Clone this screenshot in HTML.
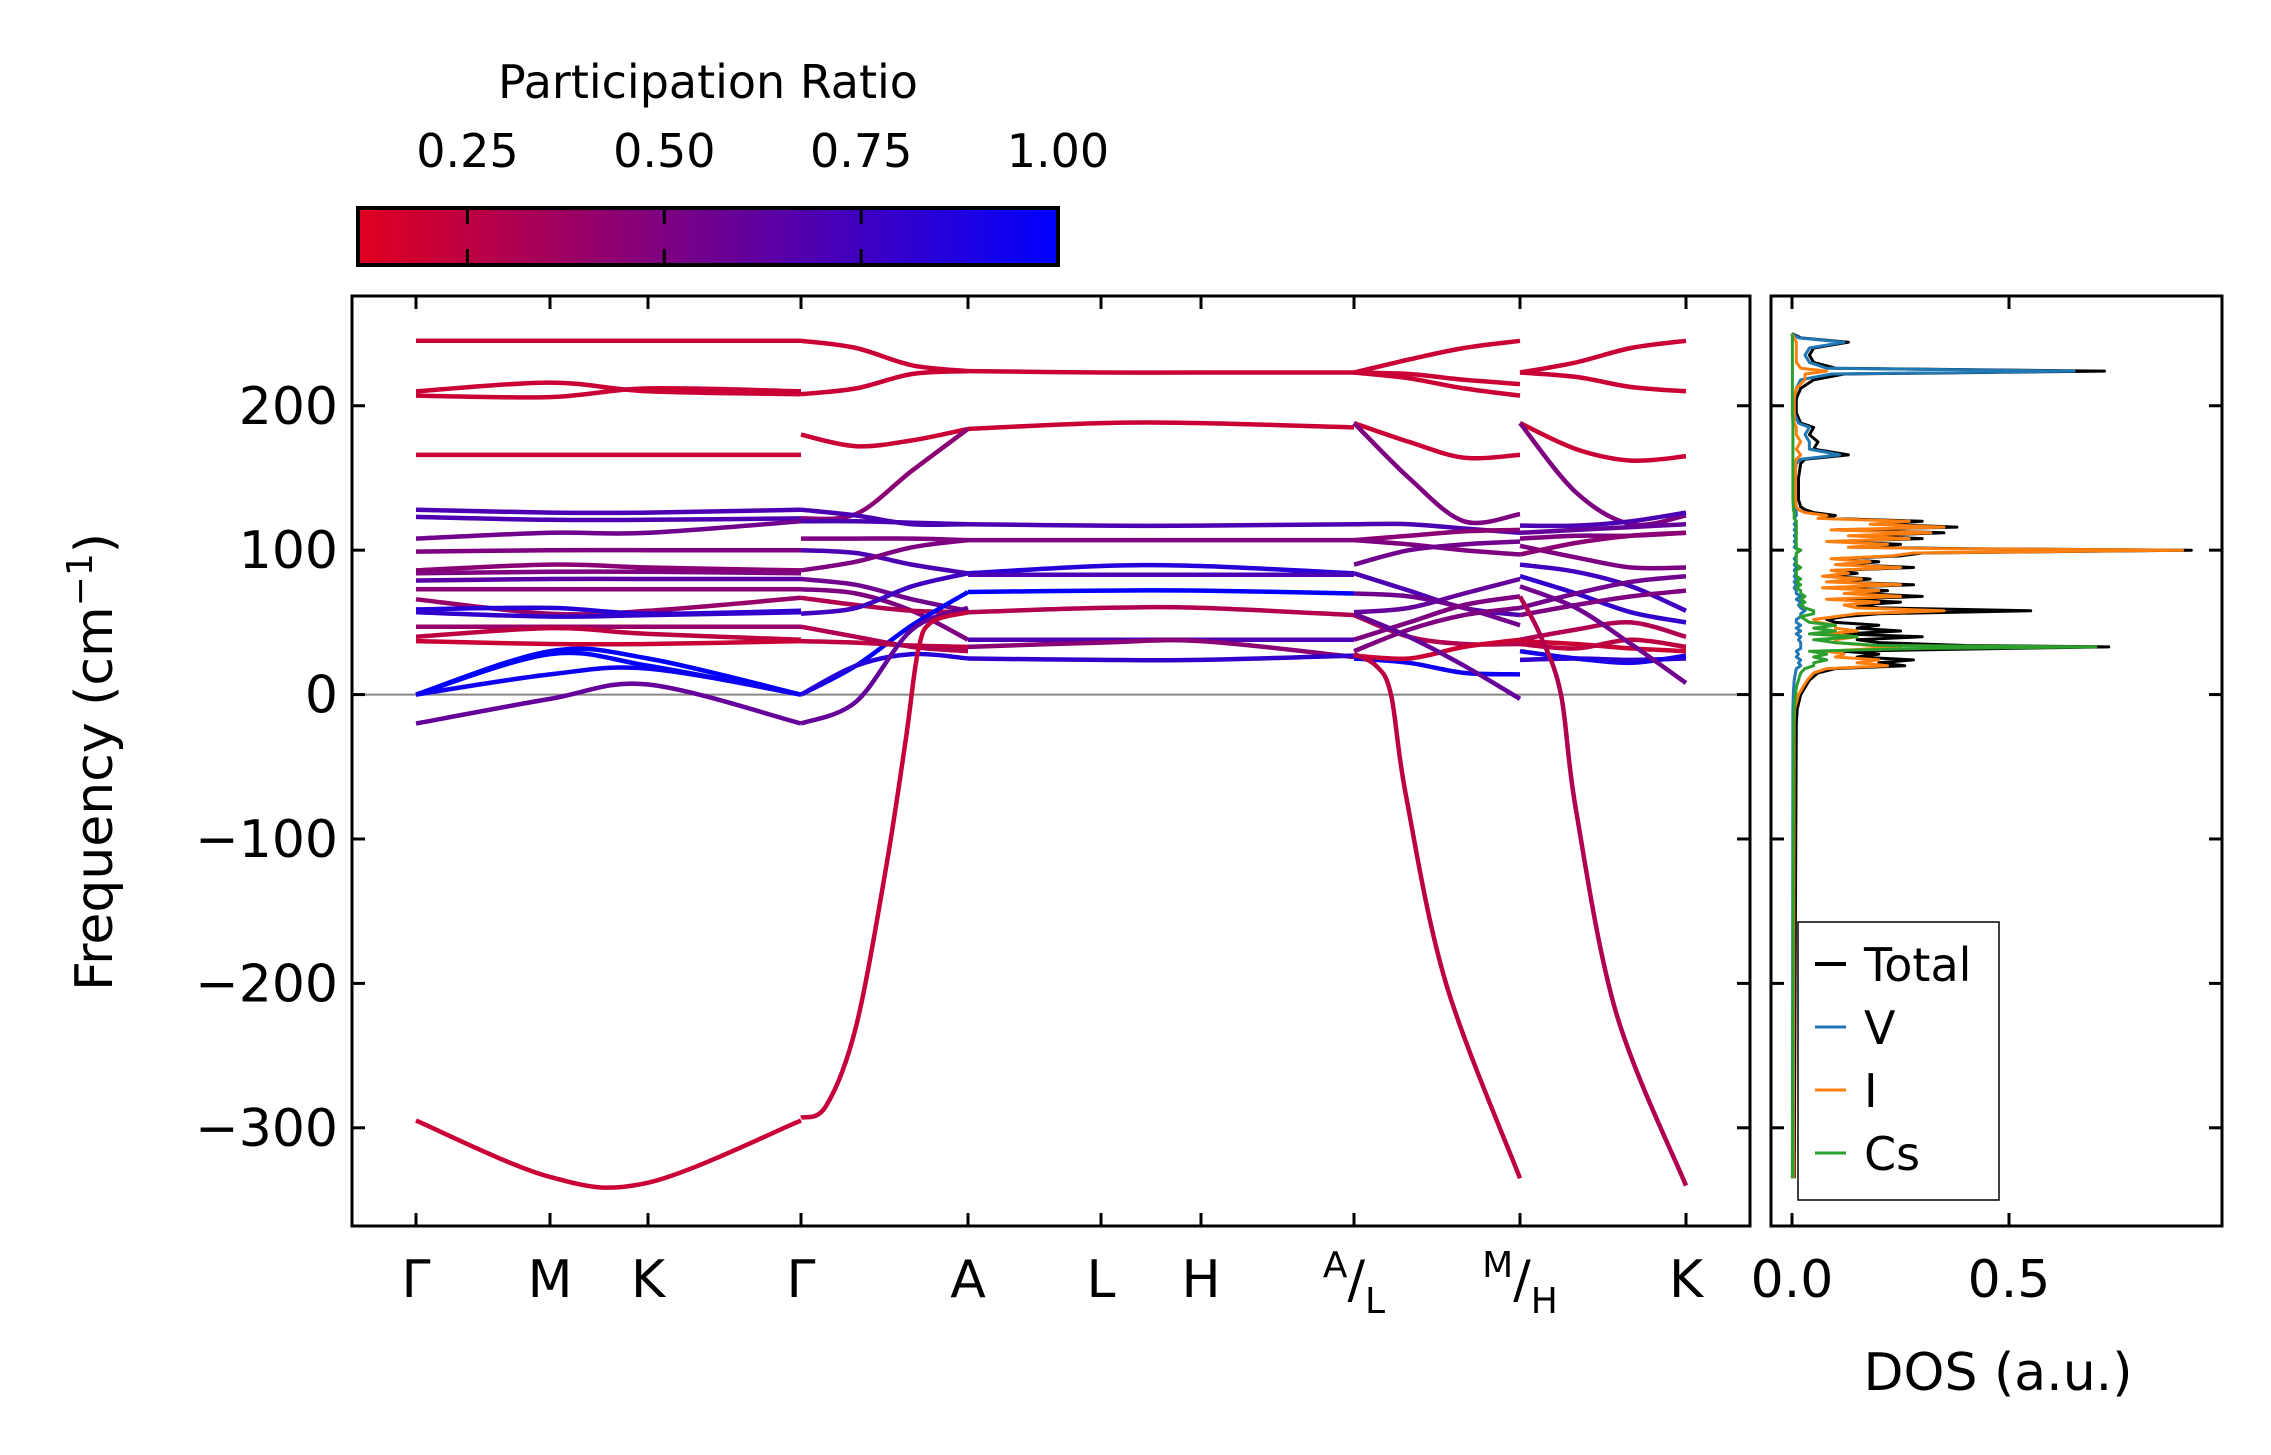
<!DOCTYPE html>
<html><head><meta charset="utf-8">
<style>
html,body{margin:0;padding:0;background:#fff;}
svg{display:block;font-family:"DejaVu Sans","Liberation Sans",sans-serif;}
</style></head>
<body>
<svg id="fig" width="2271" height="1455" viewBox="0 0 2271 1455" xmlns="http://www.w3.org/2000/svg">
<defs>
<linearGradient id="cmap" x1="0" x2="1" y1="0" y2="0">
<stop offset="0" stop-color="rgb(224,0,31)"/><stop offset="1" stop-color="rgb(0,0,255)"/>
</linearGradient>
<clipPath id="mainClip"><rect x="352" y="296" width="1398" height="930"/></clipPath>
<clipPath id="dosClip"><rect x="1771" y="296" width="451" height="930"/></clipPath>
</defs>
<text x="708" y="98" font-size="46" text-anchor="middle">Participation Ratio</text>
<g id="cbar">
<rect x="358" y="208" width="700" height="57" fill="url(#cmap)" stroke="#000" stroke-width="4"/>
</g>
<g id="mainAxes"></g>
<g id="dosAxes"></g>
<text transform="translate(112,762) rotate(-90)" font-size="52" text-anchor="middle">Frequency (cm<tspan font-size="36" dy="-20">−1</tspan><tspan dy="20">)</tspan></text>
<text x="1998" y="1390" font-size="52" text-anchor="middle">DOS (a.u.)</text>
</svg>
<script>
// ---------- DATA ----------
const yMin = -368, yMax = 276;
const tickFreqs = [-300, -200, -100, 0, 100, 200];
const tickLabels = ["−300", "−200", "−100", "0", "100", "200"];
const kTickPos = [0, 134, 232, 385, 552, 685, 785, 938, 1104, 1270];
const kTickLabels = ["Γ", "M", "K", "Γ", "A", "L", "H", "A/L", "M/H", "K"];
const cbarTicks = [0.25, 0.50, 0.75, 1.00];
const cbarTickLabels = ["0.25", "0.50", "0.75", "1.00"];

const seg1K = [0, 134, 232, 385];
const seg1Bands = [[245,245,245,245],[210,216,210,208],[207,206,212,210],[166,166,166,166],[128,126,126,128],[123,121,121,122],[108,112,112,120],[99,100,100,100],[86,90,88,86],[84,85,85,84],[79,80,80,80],[73,73,73,73],[66,56,58,67],[59,60,56,58],[57,54,55,57],[47,47,47,47],[40,46,42,38],[37,35,35,37],[0,28,20,0],[0,30,25,0],[0,14,18,0],[-20,-3,7,-20],[-295,-334,-338,-295]];
const seg1PR = [.2,.2,.2,.2,.7,.7,.55,.5,.45,.5,.65,.45,.4,.85,.8,.4,.25,.2,1,1,.95,.6,.2];

const seg2K = [385, 440, 496, 552];
const seg2Bands = [[245,240,228,224],[208,212,222,224],[180,172,176,184],[122,125,155,184],[128,124,118,118],[120,120,119,118],[108,108,108,107],[100,98,90,84],[86,92,102,107],[80,76,66,58],[73,70,58,38],[67,62,58,57],[56,60,75,84],[0,20,48,71],[0,20,28,25],[37,36,34,33],[47,40,33,30],[-20,-5,45,60]];
const seg2PR = [.2,.2,.2,.45,.7,.7,.5,.7,.5,.55,.5,.3,.75,1,.85,.25,.3,.6];
const seg2bK = [385, 410, 440, 470, 490, 502, 515, 552];
const seg2bBand = [-293, -285, -230, -120, -30, 30, 50, 57];
const seg2bPR = 0.22;

const seg3K = [552, 685, 785, 938];
const seg3Bands = [[224,223,223,223],[184,188,188,185],[118,117,117,118],[107,107,107,107],[84,89,89,84],[83,83,83,83],[71,72,72,70],[57,60,60,55],[38,38,38,38],[33,36,37,26],[25,24,24,27]];
const seg3PR = [.2,.2,.7,.5,.85,.7,1,.3,.7,.45,.8];

const seg4K = [938, 993, 1048, 1104];
const seg4Bands = [[223,232,240,245],[223,222,218,215],[223,219,212,207],[188,175,164,166],[188,150,120,125],[118,118,115,112],[107,110,113,114],[107,104,100,97],[90,100,104,106],[84,72,60,55],[70,68,60,48],[57,60,70,80],[55,40,35,35],[30,45,55,60],[25,22,15,14],[38,50,62,68],[27,25,33,38],[56,40,20,-3]];
const seg4PR = [.2,.2,.2,.2,.5,.7,.45,.5,.55,.7,.55,.6,.3,.5,.95,.5,.2,.6];
const seg4bK = [938, 960, 975, 990, 1030, 1104];
const seg4bBand = [28, 20, 0, -70, -200, -335];
const seg4bPR = 0.25;

const seg5K = [1104, 1160, 1215, 1270];
const seg5Bands = [[223,230,240,245],[223,220,213,210],[188,170,162,165],[188,140,118,124],[117,117,120,126],[112,114,116,118],[108,110,110,112],[103,95,88,88],[97,105,110,112],[90,85,75,58],[82,70,57,50],[60,70,78,82],[55,62,68,72],[38,45,50,40],[37,35,32,30],[35,32,38,33],[24,25,24,25],[30,25,22,27],[75,60,35,8]];
const seg5PR = [.2,.2,.2,.5,.7,.6,.5,.5,.45,.75,.8,.55,.5,.3,.2,.25,.8,.9,.55];
const seg5bK = [1104, 1125, 1145, 1160, 1200, 1270];
const seg5bBand = [68, 40, 0, -80, -220, -340];
const seg5bPR = 0.3;

const dosFreq = [-335,-20,-10,0,5,10,15,18,20,22, 24,26,28,30,32,33,34,36,38,40, 42,44,46,48,50,52,54,56,58,60, 62,64,66,68,70,72,74,76,78,80, 82,84,86,88,90,92,94,96,98,100, 101,102,104,106,108,110,112,114,116,118, 120,122,124,126,128,130,135,150,160,163, 166,170,175,180,185,188,195,205,212,218, 222,224,226,230,235,240,244,247,250];
const dosTotal = [.005,.01,.012,.02,.03,.04,.06,.1,.26,.2, .28,.15,.2,.12,.5,.73,.4,.2,.15,.3, .12,.25,.15,.2,.1,.08,.12,.2,.55,.2, .15,.25,.1,.3,.15,.22,.08,.28,.1,.18, .08,.15,.1,.28,.12,.2,.1,.25,.3,.92, .4,.15,.25,.1,.3,.15,.35,.1,.38,.2, .3,.08,.1,.05,.03,.02,.015,.015,.02,.03, .13,.05,.06,.04,.05,.02,.01,.01,.02,.05, .12,.72,.1,.05,.04,.05,.13,.02,0];
const dosV = [.001,.002,.002,.003,.004,.005,.008,.01,.02,.015, .02,.01,.015,.01,.02,.02,.02,.02,.015,.02, .01,.02,.01,.02,.01,.01,.02,.02,.03,.02, .015,.02,.01,.02,.01,.01,.005,.01,.005,.01, .005,.01,.005,.01,.005,.01,.005,.01,.01,.02, .01,.005,.01,.005,.01,.005,.01,.005,.01,.005, .01,.005,.01,.01,.008,.008,.005,.005,.01,.02, .11,.04,.04,.03,.04,.015,.005,.005,.01,.02, .09,.65,.08,.04,.03,.04,.12,.015,0];
const dosI = [.003,.005,.006,.015,.025,.035,.05,.08,.22,.15, .2,.1,.12,.08,.2,.25,.18,.1,.1,.15, .08,.15,.1,.1,.06,.05,.1,.15,.35,.15, .12,.2,.08,.25,.12,.2,.07,.25,.08,.16, .07,.13,.09,.25,.1,.18,.09,.23,.28,.9, .35,.13,.22,.08,.27,.13,.32,.09,.35,.18, .27,.06,.08,.03,.015,.01,.008,.008,.008,.01, .02,.01,.02,.01,.01,.005,.005,.005,.01,.03, .03,.08,.02,.01,.01,.01,.01,.005,0];
const dosCs = [.001,.004,.005,.008,.01,.015,.02,.03,.05,.05, .08,.05,.08,.04,.3,.7,.2,.1,.05,.15, .04,.1,.05,.1,.04,.03,.02,.05,.05,.03, .02,.03,.02,.03,.02,.02,.01,.02,.01,.02, .01,.01,.01,.02,.01,.01,.01,.01,.01,.02, .01,.01,.01,.01,.01,.01,.01,.01,.01,.01, .01,.005,.005,.005,.003,.003,.002,.002,.002,.002, .002,.002,.002,.002,.002,.002,.001,.001,.001,.001, .001,.001,.001,.001,.001,.001,.001,.001,0];
const dosTicks = [0, 0.5];
const dosTickLabels = ["0.0", "0.5"];
const legendLabels = ["Total", "V", "I", "Cs"];
const legendColors = ["#000000", "#1f77b4", "#ff7f0e", "#2ca02c"];

// ---------- SCALES ----------
const NS = "http://www.w3.org/2000/svg";
const ax = {l:352, r:1750, t:296, b:1226};
const dx = {l:1771, r:2222};
function yS(f){ return ax.b - (f - yMin) / (yMax - yMin) * (ax.b - ax.t); }
function xS(k){ return 416 + k; }
function dS(v){ return 1792 + v * 434; }
function cbS(p){ return 358 + (p - 0.111) / (1 - 0.111) * 700; }
function prColor(p){
  let t = Math.max(0, Math.min(1, (p - 0.111) / 0.889));
  return "rgb(" + Math.round(224*(1-t)) + ",0," + Math.round(31 + 224*t) + ")";
}
function mk(tag, attrs, parent){
  const e = document.createElementNS(NS, tag);
  for (const k in attrs) e.setAttribute(k, attrs[k]);
  parent.appendChild(e);
  return e;
}
function smoothPath(pts){
  let d = "M" + pts[0][0].toFixed(1) + "," + pts[0][1].toFixed(1);
  for (let i = 0; i < pts.length - 1; i++){
    const p0 = pts[Math.max(0,i-1)], p1 = pts[i], p2 = pts[i+1], p3 = pts[Math.min(pts.length-1,i+2)];
    const c1 = [p1[0] + (p2[0]-p0[0])/6, p1[1] + (p2[1]-p0[1])/6];
    const c2 = [p2[0] - (p3[0]-p1[0])/6, p2[1] - (p3[1]-p1[1])/6];
    d += " C" + c1[0].toFixed(1) + "," + c1[1].toFixed(1) + " " + c2[0].toFixed(1) + "," + c2[1].toFixed(1) + " " + p2[0].toFixed(1) + "," + p2[1].toFixed(1);
  }
  return d;
}

const main = document.getElementById("mainAxes");
const dos = document.getElementById("dosAxes");
const cbar = document.getElementById("cbar");

cbarTicks.forEach((p, i) => {
  const x = cbS(p);
  if (p < 1) {
    const t1 = mk("line", {x1:x, x2:x, y1:208, y2:224, stroke:"#000", "stroke-width":3}, cbar);
    
    
    const t2 = mk("line", {x1:x, x2:x, y1:249, y2:265, stroke:"#000", "stroke-width":3}, cbar);
    
    
  }
  const tl = mk("text", {x:x, y:167, "font-size":46, "text-anchor":"middle"}, cbar);
  
  
  tl.textContent = cbarTickLabels[i];
});

const zl = mk("line", {x1:ax.l, x2:ax.r, y1:yS(0), y2:yS(0), stroke:"#888", "stroke-width":2}, main);



const bandG = mk("g", {"clip-path":"url(#mainClip)"}, main);


function drawBand(K, vals, pr){
  const pts = K.map((k, i) => [xS(k), yS(vals[i])]);
  const p = mk("path", {d:smoothPath(pts), fill:"none", stroke:prColor(pr), "stroke-width":4.5, "stroke-linecap":"butt"}, bandG);
  
  
}
[[seg1K,seg1Bands,seg1PR],[seg2K,seg2Bands,seg2PR],[seg3K,seg3Bands,seg3PR],[seg4K,seg4Bands,seg4PR],[seg5K,seg5Bands,seg5PR]].forEach(s => {
  s[1].forEach((b, i) => drawBand(s[0], b, s[2][i]));
});
drawBand(seg2bK, seg2bBand, seg2bPR);
drawBand(seg4bK, seg4bBand, seg4bPR);
drawBand(seg5bK, seg5bBand, seg5bPR);

const mf = mk("rect", {x:ax.l, y:ax.t, width:ax.r-ax.l, height:ax.b-ax.t, fill:"none", stroke:"#000", "stroke-width":3}, main);



tickFreqs.forEach((f, i) => {
  const y = yS(f);
  [[ax.l, ax.l+13],[ax.r-13, ax.r],[dx.l, dx.l+13],[dx.r-13, dx.r]].forEach(([a,b]) => {
    const t = mk("line", {x1:a, x2:b, y1:y, y2:y, stroke:"#000", "stroke-width":3}, main);
    
    
  });
  const tl = mk("text", {x:ax.l-14, y:y+18, "font-size":52, "text-anchor":"end"}, main);
  
  
  tl.textContent = tickLabels[i];
});

kTickPos.forEach((k, i) => {
  const x = xS(k);
  [[ax.t, ax.t+13],[ax.b-13, ax.b]].forEach(([a,b]) => {
    const t = mk("line", {x1:x, x2:x, y1:a, y2:b, stroke:"#000", "stroke-width":3}, main);
    
    
  });
  const lab = kTickLabels[i];
  const tl = mk("text", {x:x, y:1297, "font-size":52, "text-anchor":"middle"}, main);
  
  
  if (lab.indexOf("/") > 0) {
    const parts = lab.split("/");
    const s1 = mk("tspan", {"font-size":36, dy:-20}, tl); s1.textContent = parts[0];
    const s2 = mk("tspan", {dy:20}, tl); s2.textContent = "/";
    const s3 = mk("tspan", {"font-size":36, dy:16}, tl); s3.textContent = parts[1];
  } else tl.textContent = lab;
});

const dg = mk("g", {"clip-path":"url(#dosClip)"}, dos);


function dosLine(vals, color, name){
  const d = vals.map((v, i) => (i ? "L" : "M") + dS(v).toFixed(1) + "," + yS(dosFreq[i]).toFixed(1)).join(" ");
  const p = mk("path", {d:d, fill:"none", stroke:color, "stroke-width":3, "stroke-linejoin":"round"}, dg);
  
  
}
dosLine(dosTotal, "#000000", "dos-total-line");
dosLine(dosV, "#1f77b4", "dos-v-line");
dosLine(dosI, "#ff7f0e", "dos-i-line");
dosLine(dosCs, "#2ca02c", "dos-cs-line");

const df = mk("rect", {x:dx.l, y:ax.t, width:dx.r-dx.l, height:ax.b-ax.t, fill:"none", stroke:"#000", "stroke-width":3}, dos);


dosTicks.forEach((v, i) => {
  const x = dS(v);
  [[ax.t, ax.t+13],[ax.b-13, ax.b]].forEach(([a,b]) => {
    const t = mk("line", {x1:x, x2:x, y1:a, y2:b, stroke:"#000", "stroke-width":3}, dos);
    
    
  });
  const tl = mk("text", {x:x, y:1297, "font-size":52, "text-anchor":"middle"}, dos);
  
  
  tl.textContent = dosTickLabels[i];
});

const lg = mk("g", {}, dos);


const lb = mk("rect", {x:1798, y:922, width:201, height:278, fill:"#fff", stroke:"#000", "stroke-width":1.5}, lg);


legendLabels.forEach((lab, i) => {
  const y = 964 + i * 63;
  const ln = mk("line", {x1:1815, x2:1846, y1:y, y2:y, stroke:legendColors[i], "stroke-width":i===0?4:3}, lg);
  
  
  const t = mk("text", {x:1864, y:y+17, "font-size":46}, lg);
  
  
  t.textContent = lab;
});
</script>
</body></html>
